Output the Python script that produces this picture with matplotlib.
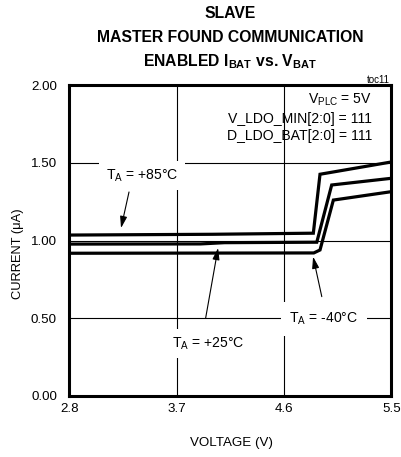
import matplotlib
matplotlib.use("Agg")
import matplotlib.pyplot as plt
from matplotlib import font_manager

names = {f.name for f in font_manager.fontManager.ttflist}
if 'Liberation Sans Narrow' in names:
    NARROW = 'Liberation Sans Narrow'
    k = 1.0
else:
    NARROW = 'Liberation Sans'
    k = 0.88

plt.rcParams['font.family'] = [NARROW, 'DejaVu Sans']
plt.rcParams['mathtext.default'] = 'regular'

# Data
x_85 = [2.8, 4.0, 4.846, 4.902, 5.5]
y_85 = [1.035, 1.04, 1.047, 1.426, 1.505]
x_25 = [2.8, 3.9, 4.1, 4.875, 5.0, 5.5]
y_25 = [0.977, 0.978, 0.986, 0.989, 1.357, 1.40]
x_m40 = [2.8, 4.85, 4.902, 5.014, 5.5]
y_m40 = [0.918, 0.92, 0.939, 1.26, 1.314]

x_ticks = [2.8, 3.7, 4.6, 5.5]
x_ticklabels = ["2.8", "3.7", "4.6", "5.5"]
y_ticks = [0.0, 0.5, 1.0, 1.5, 2.0]
y_ticklabels = ["0.00", "0.50", "1.00", "1.50", "2.00"]

fig = plt.figure(figsize=(4.01, 4.57), dpi=100)
ax = fig.add_axes([69.4/401, 1-396/457, (391.3-69.4)/401, (396-85)/457])

ax.set_xlim(2.8, 5.5)
ax.set_ylim(0, 2.0)
ax.set_xticks(x_ticks)
ax.set_xticklabels(x_ticklabels)
ax.set_yticks(y_ticks)
ax.set_yticklabels(y_ticklabels)
ax.tick_params(length=0, labelsize=11*k, pad=5)
ax.tick_params(axis='y', pad=9)
ax.grid(True, color='black', lw=0.8)
ax.set_axisbelow(True)
for s in ax.spines.values():
    s.set_linewidth(2.2)

lw = 2.3
ax.plot(x_85, y_85, color='black', lw=lw, solid_joinstyle='miter', zorder=3)
ax.plot(x_25, y_25, color='black', lw=lw, solid_joinstyle='miter', zorder=3)
ax.plot(x_m40, y_m40, color='black', lw=lw, solid_joinstyle='miter', zorder=3)

ax.set_xlabel("VOLTAGE (V)", fontsize=11*k)
ax.set_ylabel("CURRENT (μA)", fontsize=10.5*k)
ax.xaxis.set_label_coords(0.505, -0.132)
ax.yaxis.set_label_coords(-0.14, 0.458)

# Titles
fs_t = 11.3
tfam = ['Liberation Sans', 'DejaVu Sans']
fig.text(230/401, 1-14/457, "SLAVE", ha='center', va='center', fontsize=fs_t, fontweight='bold', family=tfam)
fig.text(230/401, 1-37.5/457, "MASTER FOUND COMMUNICATION", ha='center', va='center', fontsize=fs_t, fontweight='bold', family=tfam)
fig.text(230/401, 1-66/457, "ENABLED I$_{BAT}$ vs. V$_{BAT}$", ha='center', va='baseline', fontsize=fs_t, fontweight='bold', family=tfam)
fig.text(390/401, 1-83/457, "toc11", ha='right', va='baseline', fontsize=8*k)

# Condition text
fsc = 11.5*k
ax.text(5.339, 1.878, "V$_{PLC}$ = 5V", ha='right', va='baseline', fontsize=fsc, zorder=4)
ax.text(5.339, 1.758, "V_LDO_MIN[2:0] = 111", ha='right', va='baseline', fontsize=fsc, zorder=4)
ax.text(5.339, 1.646, "D_LDO_BAT[2:0] = 111", ha='right', va='baseline', fontsize=fsc, zorder=4)

# Curve labels
fsl = 11.5*k
box = dict(boxstyle='square,pad=0.45', fc='white', ec='none')
ax.text(3.409, 1.415, "T$_A$ = +85°C", ha='center', va='center', fontsize=fsl, bbox=box, zorder=2)
ax.text(3.963, 0.335, "T$_A$ = +25°C", ha='center', va='center', fontsize=fsl, bbox=box, zorder=2)
ax.text(4.935, 0.495, "T$_A$ = -40°C", ha='center', va='center', fontsize=fsl,
        bbox=dict(boxstyle='square,pad=0.6', fc='white', ec='none'), zorder=2)

ap = dict(arrowstyle='-|>,head_length=0.5,head_width=0.15', color='black', lw=0.8,
          mutation_scale=14, shrinkA=0, shrinkB=0)
ax.annotate("", xy=(3.233, 1.080), xytext=(3.30, 1.312), arrowprops=ap, zorder=4)
ax.annotate("", xy=(4.047, 0.952), xytext=(3.943, 0.502), arrowprops=ap, zorder=4)
ax.annotate("", xy=(4.844, 0.896), xytext=(4.917, 0.639), arrowprops=ap, zorder=4)

fig.savefig("out.png", dpi=100)
